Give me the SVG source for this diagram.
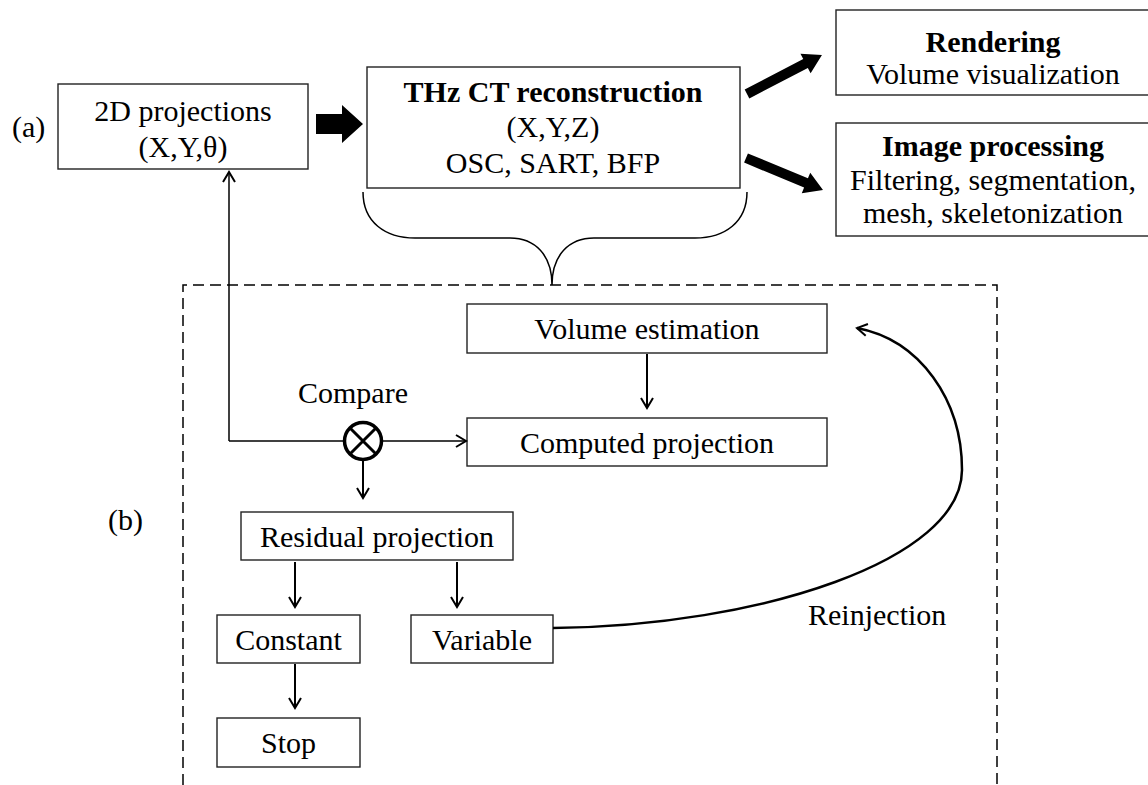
<svg xmlns="http://www.w3.org/2000/svg" width="1148" height="785" viewBox="0 0 1148 785">
<style>
text{font-family:"Liberation Serif","Times New Roman",serif;font-size:30px;fill:#000}
.b{font-weight:bold}
.m{text-anchor:middle}
.box{fill:#fff;stroke:#222;stroke-width:1.4}
.ln{fill:none;stroke:#000;stroke-width:2}
.thin{fill:none;stroke:#000;stroke-width:1.5}
.dash{fill:none;stroke:#000;stroke-width:1.5;stroke-dasharray:11,6}
</style>
<defs>
<marker id="ah" markerUnits="userSpaceOnUse" viewBox="-12 -8 14 16" refX="0" refY="0" markerWidth="14" markerHeight="16" orient="auto">
<path d="M-10,-6 L0,0 L-10,6" fill="none" stroke="#000" stroke-width="2"/>
</marker>
</defs>
<text x="12" y="137">(a)</text>
<text x="108" y="530">(b)</text>
<g id="dashed-frame">
<path class="dash" d="M183,785 L183,285 L997,285 L997,785"/>
</g>
<g id="n-projections">
<rect class="box" x="58" y="84" width="250" height="85"/>
<text class="m" x="183" y="121">2D projections</text>
<text class="m" x="183" y="157">(X,Y,θ)</text>
</g>
<g id="n-thz">
<rect class="box" x="367" y="67" width="373" height="121"/>
<text class="m b" x="553" y="102">THz CT reconstruction</text>
<text class="m" x="553" y="137">(X,Y,Z)</text>
<text class="m" x="553" y="173">OSC, SART, BFP</text>
</g>
<g id="n-rendering">
<rect class="box" x="836" y="10" width="320" height="85"/>
<text class="m b" x="993" y="52">Rendering</text>
<text class="m" x="993" y="84">Volume visualization</text>
</g>
<g id="n-imageproc">
<rect class="box" x="836" y="123" width="320" height="113"/>
<text class="m b" x="993" y="156">Image processing</text>
<text class="m" x="993" y="190">Filtering, segmentation,</text>
<text class="m" x="993" y="223">mesh, skeletonization</text>
</g>
<g id="brace">
<path class="thin" d="M363,192 C363,222 385,238 415,238 L510,238 C535,238 552,255 552,285 C552,255 569,238 594,238 L695,238 C725,238 747,222 747,192"/>
</g>
<g id="n-volume">
<rect class="box" x="467" y="304" width="360" height="49"/>
<text class="m" x="647" y="339">Volume estimation</text>
</g>
<g id="n-computed">
<rect class="box" x="467" y="418" width="360" height="48"/>
<text class="m" x="647" y="453">Computed projection</text>
</g>
<g id="n-residual">
<rect class="box" x="241" y="512" width="272" height="48"/>
<text class="m" x="377" y="547">Residual projection</text>
</g>
<g id="n-constant">
<rect class="box" x="217" y="615" width="143" height="48"/>
<text class="m" x="288.5" y="650">Constant</text>
</g>
<g id="n-variable">
<rect class="box" x="411" y="615" width="142" height="48"/>
<text class="m" x="482" y="650">Variable</text>
</g>
<g id="n-stop">
<rect class="box" x="217" y="718" width="143" height="49"/>
<text class="m" x="288.5" y="753">Stop</text>
</g>
<g id="connectors">
<polygon points="316,114 342,114 342,105 363,124 342,143 342,134 316,134" fill="#000"/>
<polygon points="0,-5 66,-5 66,-11 84.5,0 66,11 66,5 0,5" fill="#000" transform="translate(747,94) rotate(-27.5)"/>
<polygon points="0,-5 65,-5 65,-11 83.4,0 65,11 65,5 0,5" fill="#000" transform="translate(746,158) rotate(22.6)"/>
<path class="thin" d="M229,441 L229,172" marker-end="url(#ah)"/>
<path class="thin" d="M229,441 L466,441" marker-end="url(#ah)"/>
<path class="ln" d="M647,354 L647,408" marker-end="url(#ah)"/>
<path class="ln" d="M363,460 L363,498" marker-end="url(#ah)"/>
<path class="ln" d="M295,562 L295,607" marker-end="url(#ah)"/>
<path class="ln" d="M457,562 L457,607" marker-end="url(#ah)"/>
<path class="ln" d="M295,664 L295,708" marker-end="url(#ah)"/>
<path fill="none" stroke="#000" stroke-width="2.5" d="M553,628 C760,626 962,560 962,470 C962,400 920,340 857,328" marker-end="url(#ah)"/>
</g>
<g id="compare">
<text class="m" x="353" y="403">Compare</text>
<circle cx="363" cy="441" r="18.5" fill="#fff" stroke="#000" stroke-width="3.5"/>
<path d="M350,428 L376,454 M376,428 L350,454" stroke="#000" stroke-width="3"/>
</g>
<text x="808" y="625">Reinjection</text>
</svg>
